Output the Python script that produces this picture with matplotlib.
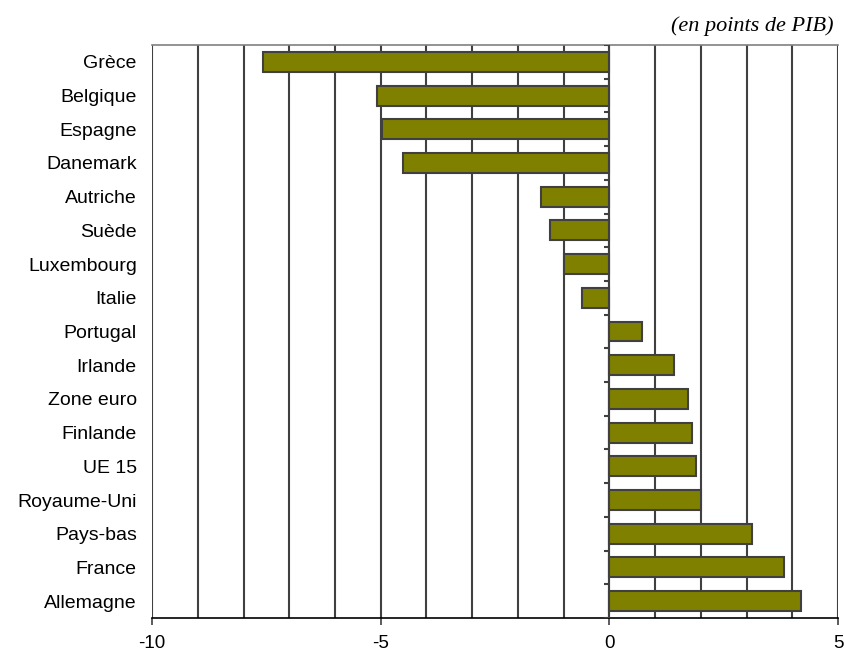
import numpy as np
import matplotlib.pyplot as plt

# Solde en points de PIB, par pays (ordre d'affichage, de haut en bas)
pays = ["Grèce", "Belgique", "Espagne", "Danemark", "Autriche", "Suède",
        "Luxembourg", "Italie", "Portugal", "Irlande", "Zone euro", "Finlande",
        "UE 15", "Royaume-Uni", "Pays-bas", "France", "Allemagne"]
valeurs = [-7.58, -5.08, -4.97, -4.51, -1.49, -1.30, -0.99, -0.60,
           0.71, 1.41, 1.71, 1.80, 1.89, 2.00, 3.11, 3.81, 4.20]
graduations_x = [-10, -5, 0, 5]

gris = "#404040"
plt.rcParams["font.family"] = ["Liberation Sans", "DejaVu Sans"]

fig = plt.figure(figsize=(8.45, 6.58), dpi=100)
ax = fig.add_axes([0.18, 0.0608, 0.8117, 0.8708])

y = np.arange(len(pays))
ax.barh(y, valeurs, height=0.59, color="#808000", edgecolor=gris,
        linewidth=1.5, zorder=3)

# grille verticale à chaque unité
ax.set_xlim(-10, 5)
ax.set_ylim(len(pays) - 0.5, -0.5)
for gx in range(-10, 6):
    ax.axvline(gx, color=gris, linewidth=1.5, zorder=1)

# axe vertical en zéro avec ses petites graduations
ax.axvline(0, color=gris, linewidth=1.5, zorder=4)
ax.hlines(np.arange(len(pays) + 1) - 0.5, -0.12, 0, color=gris,
          linewidth=1.5, zorder=4)

ax.set_xticks(graduations_x)
ax.set_xticklabels([str(v) for v in graduations_x], fontsize=13.5)
ax.tick_params(axis="x", length=5, width=1.2, color=gris, pad=7)
ax.set_yticks(y)
ax.set_yticklabels(pays, fontsize=14)
ax.tick_params(axis="y", length=0, pad=11)

for cote in ["left", "right"]:
    ax.spines[cote].set_visible(False)
ax.spines["top"].set_color("#808080")
ax.spines["top"].set_linewidth(1.2)
ax.spines["bottom"].set_color("black")
ax.spines["bottom"].set_linewidth(1.2)

fig.text(0.986, 0.961, "(en points de PIB)", ha="right", va="center",
         fontsize=16, style="italic",
         family=["Liberation Serif", "DejaVu Serif"])

fig.savefig("out.png", dpi=100)
